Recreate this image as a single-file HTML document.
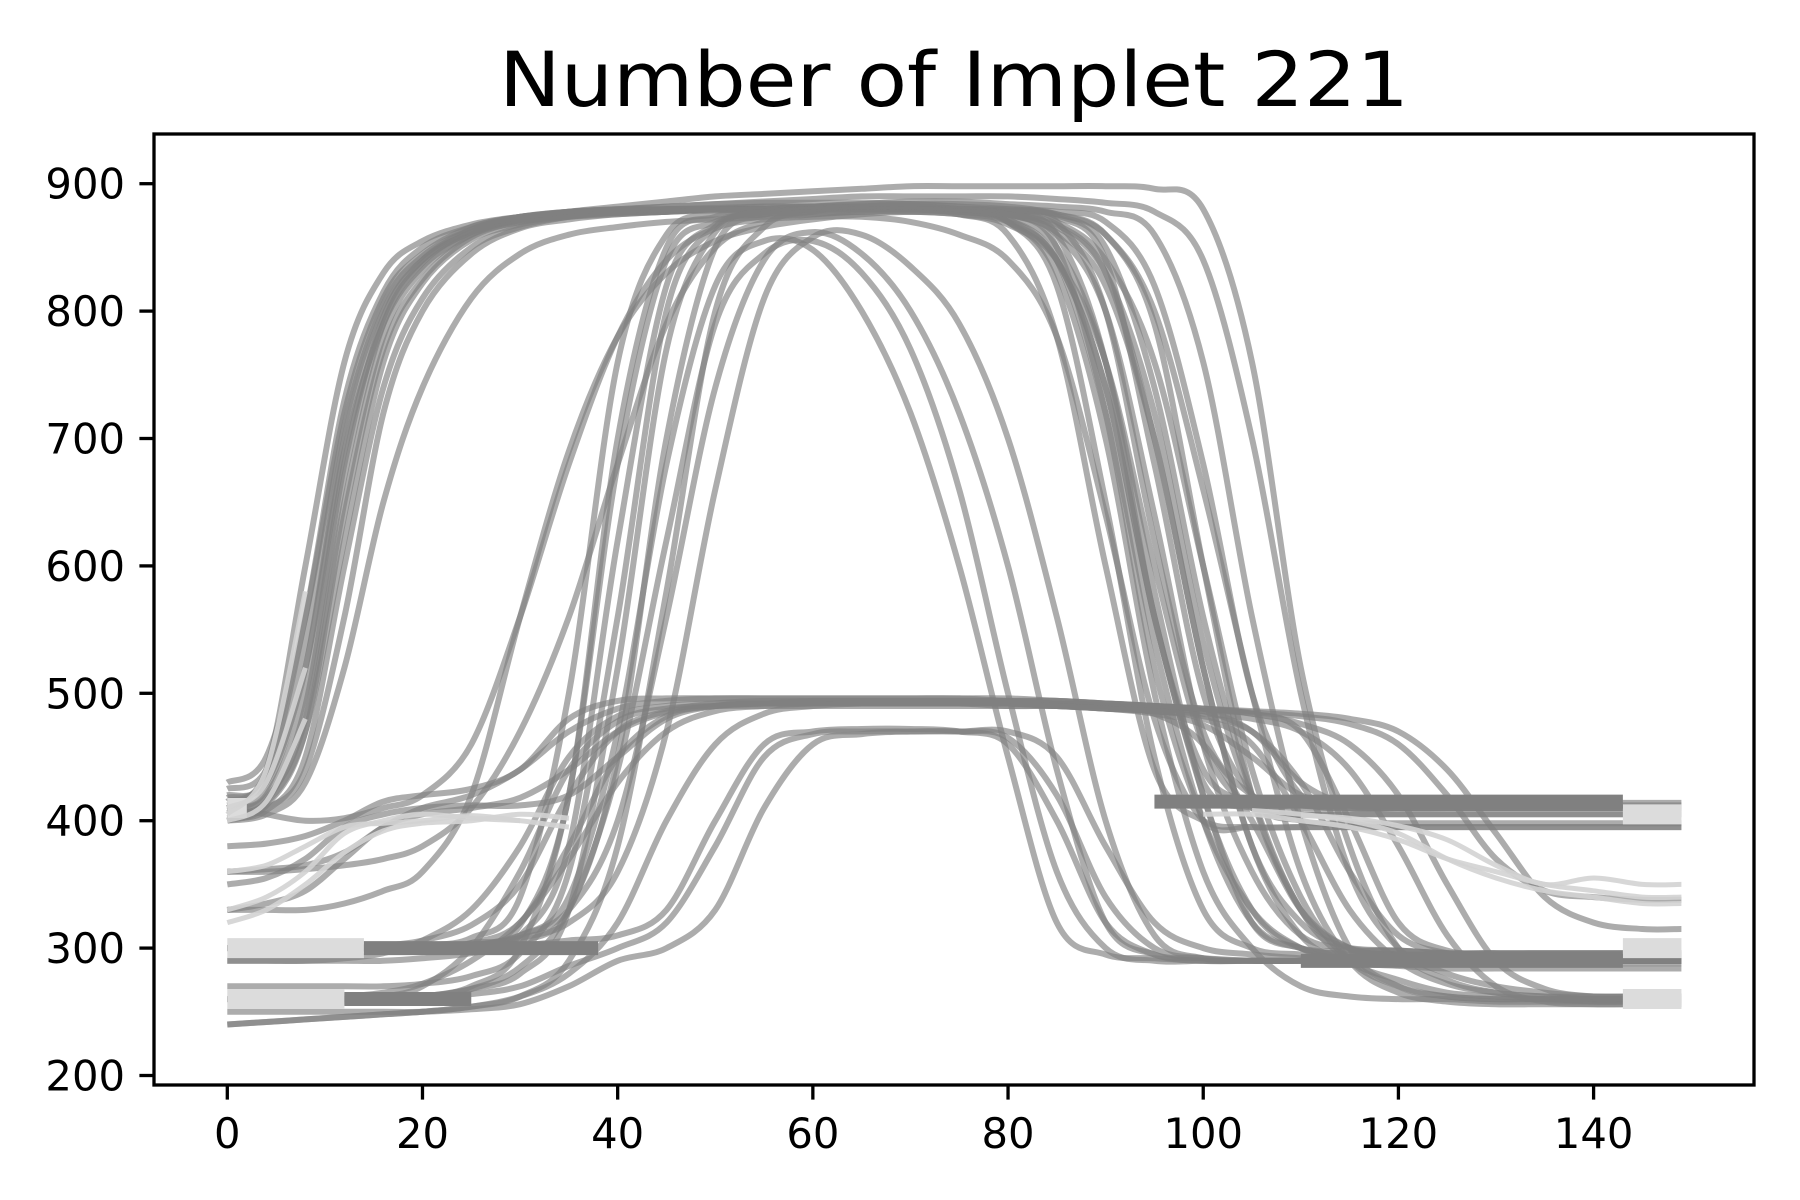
<!DOCTYPE html>
<html><head><meta charset="utf-8"><style>html,body{margin:0;padding:0;background:#fff}svg{display:block}</style></head>
<body>
<svg id="chart" width="1800" height="1200" viewBox="0 0 1800 1200" xmlns="http://www.w3.org/2000/svg" font-family="DejaVu Sans, Liberation Sans, sans-serif">
<rect width="1800" height="1200" fill="#fff"/>
<text x="954" y="106" font-size="76" text-anchor="middle" textLength="910" lengthAdjust="spacingAndGlyphs">Number of Implet 221</text>
<defs><clipPath id="plotclip"><rect x="154" y="134" width="1600" height="951"/></clipPath></defs>
<g id="series" clip-path="url(#plotclip)"></g>
<g id="axes"></g>
</svg>
<script>
const xKnots=[0,4,8,12,16,20,25,30,35,40,45,50,55,60,65,70,75,80,85,90,95,100,105,110,115,120,125,130,135,140,145,149];
const xTicks=[0,20,40,60,80,100,120,140];
const yTicks=[200,300,400,500,600,700,800,900];
const curves=[
[410,425,520,700,800,840,862,872,876,878,878,880,880,880,880,880,880,878,870,800,620,470,420,412,410,410,410,410,410,410,410,410],
[405,410,440,560,720,800,845,865,872,876,878,880,882,882,882,882,880,878,860,760,560,440,415,410,410,410,410,410,410,410,410,410],
[415,440,600,760,830,855,868,874,878,880,882,884,885,885,885,884,882,880,875,850,740,560,420,330,300,295,292,290,290,290,290,290],
[400,412,470,640,770,825,858,870,875,877,878,880,880,880,880,880,878,870,820,650,450,330,300,295,292,292,290,290,290,290,290,290],
[420,430,520,690,790,835,860,870,874,876,878,880,880,882,884,886,886,884,882,878,860,760,560,400,300,270,262,260,260,258,258,258],
[410,418,480,650,780,832,860,872,878,882,886,890,892,894,896,898,898,898,898,898,896,880,760,520,380,300,275,265,262,260,260,260],
[402,408,450,600,740,810,850,866,874,878,880,880,880,880,880,880,876,860,780,600,440,400,395,395,395,395,395,395,395,395,395,395],
[430,450,560,720,810,845,866,874,878,880,880,880,880,880,880,880,880,880,878,870,820,680,500,420,410,410,410,410,410,410,410,410],
[408,415,490,670,790,838,862,871,875,878,879,880,880,880,880,880,879,876,868,830,700,520,380,320,300,298,296,295,295,295,295,295],
[412,420,500,680,795,840,864,874,878,880,882,884,886,888,890,890,890,890,888,885,878,840,700,500,360,300,280,270,265,262,262,262],
[400,405,430,520,650,740,810,845,860,866,870,872,874,876,878,878,876,870,840,740,560,430,410,405,405,405,405,405,405,405,405,405],
[418,435,560,730,815,850,866,874,877,879,880,881,882,882,882,881,880,876,850,720,520,400,330,300,290,288,288,288,288,288,288,288],
[406,414,470,620,760,822,856,868,874,877,878,879,880,880,880,880,880,879,876,860,790,600,420,330,290,275,265,262,260,260,260,260],
[425,440,540,710,805,843,864,872,876,878,880,880,880,880,880,880,880,879,874,840,680,500,420,412,412,412,412,412,412,412,412,412],
[300,300,300,300,300,300,302,310,380,620,820,868,876,878,880,880,878,872,840,720,540,400,320,300,298,298,296,296,296,296,296,296],
[260,260,260,260,260,262,270,300,420,680,840,870,878,880,880,880,878,870,830,700,500,360,300,270,262,260,260,258,258,258,258,258],
[300,300,300,300,300,302,308,340,500,760,860,876,880,882,882,882,880,876,860,800,640,460,360,310,300,298,296,296,296,296,296,296],
[290,290,290,290,290,292,296,305,330,450,700,850,875,880,882,882,880,872,840,740,560,420,320,300,295,295,295,295,295,295,295,295],
[260,258,258,258,260,262,268,280,330,520,770,862,878,882,884,884,882,878,870,840,760,600,440,340,290,270,262,260,260,260,260,260],
[330,330,330,335,345,360,420,560,690,780,830,855,866,872,876,878,878,876,866,830,720,540,420,400,398,398,398,398,398,398,398,398],
[360,360,362,365,370,380,410,470,560,680,790,850,870,876,878,878,876,868,840,760,600,460,410,405,405,405,405,405,405,405,405,405],
[240,242,244,246,248,250,254,262,290,380,580,800,866,878,882,884,884,882,876,860,800,660,500,360,290,265,258,256,256,256,256,256],
[300,300,300,300,300,300,304,318,420,700,850,874,878,880,880,880,878,874,850,760,580,420,330,300,296,294,294,294,294,294,294,294],
[270,270,270,270,270,272,278,296,360,560,800,866,876,880,882,882,880,876,862,820,700,520,380,310,290,286,284,284,284,284,284,284],
[300,300,300,300,300,300,302,310,340,470,680,820,855,848,800,720,600,450,320,295,292,290,290,290,290,290,290,290,290,290,290,290],
[260,260,260,260,260,262,268,285,330,440,620,790,845,855,830,770,660,500,360,300,290,290,290,290,290,290,290,290,290,290,290,290],
[300,300,300,300,300,300,302,310,330,400,560,740,840,862,845,800,720,600,440,320,295,292,290,290,290,290,290,290,290,290,290,290],
[300,300,300,300,300,300,302,308,320,360,470,660,810,858,860,835,790,700,560,400,310,292,290,290,290,290,290,290,290,290,290,290],
[410,405,400,402,410,420,460,560,680,780,840,865,872,874,874,870,860,840,780,640,480,400,395,395,395,395,395,395,395,395,395,395],
[300,300,300,300,300,300,304,320,380,450,482,490,492,492,492,492,492,492,490,490,488,486,484,470,400,320,298,296,296,296,296,296],
[260,260,260,260,262,270,300,360,440,478,488,490,490,490,490,490,490,490,490,488,486,480,460,400,330,290,272,265,262,262,262,262],
[360,362,365,375,395,410,420,440,470,488,494,496,496,496,496,496,496,496,494,492,490,488,486,484,480,470,440,390,340,320,315,315],
[330,335,345,370,395,405,410,418,440,470,485,490,492,494,494,494,494,494,494,492,490,486,470,430,412,410,410,410,410,410,410,410],
[300,300,300,300,302,306,318,350,420,470,486,492,494,494,494,494,494,494,492,490,484,460,400,330,300,294,292,290,290,290,290,290],
[260,260,260,262,265,272,290,320,370,430,470,486,490,492,492,492,492,492,492,492,490,488,484,476,460,420,350,290,268,262,262,262],
[350,355,370,395,405,410,412,412,420,450,480,490,492,492,492,492,492,492,490,488,484,475,450,420,415,414,414,414,414,414,414,414],
[240,242,244,246,248,250,254,262,280,320,400,460,484,490,492,492,492,490,490,488,486,484,480,470,440,380,310,270,258,256,256,256],
[380,382,388,400,415,420,425,440,480,494,496,496,496,496,496,496,496,494,494,492,490,488,485,482,476,460,420,370,345,340,338,338],
[290,290,290,292,296,306,330,380,450,482,490,492,492,492,492,492,492,492,490,488,486,482,470,430,360,310,296,292,292,292,292,292],
[260,260,260,260,260,262,264,270,286,300,320,380,450,468,470,470,470,465,420,340,300,292,290,290,290,290,290,290,290,290,290,290],
[250,250,250,250,250,250,252,256,270,290,300,330,410,460,468,470,470,470,450,380,320,300,295,292,290,290,290,290,290,290,290,290],
[300,300,300,300,300,300,300,302,306,310,330,400,460,470,472,472,470,460,400,320,295,290,290,290,290,290,290,290,290,290,290,290]
];
const lightCurves=[
[405,440,580,null,null,null,null,null,null,null,null,null,null,null,null,null,null,null,null,null,null,null,null,null,null,null,null,null,null,null,null,null],
[410,430,520,null,null,null,null,null,null,null,null,null,null,null,null,null,null,null,null,null,null,null,null,null,null,null,null,null,null,null,null,null],
[400,415,480,null,null,null,null,null,null,null,null,null,null,null,null,null,null,null,null,null,null,null,null,null,null,null,null,null,null,null,null,null],
[330,340,360,390,400,405,402,400,null,null,null,null,null,null,null,null,null,null,null,null,null,null,null,null,null,null,null,null,null,null,null,null],
[360,365,380,395,398,400,404,400,395,null,null,null,null,null,null,null,null,null,null,null,null,null,null,null,null,null,null,null,null,null,null,null],
[320,330,350,375,392,398,400,405,402,null,null,null,null,null,null,null,null,null,null,null,null,null,null,null,null,null,null,null,null,null,null,null],
[null,null,null,null,null,null,null,null,null,null,null,null,null,null,null,null,null,null,null,null,null,405,405,400,395,385,370,360,350,345,340,340],
[null,null,null,null,null,null,null,null,null,null,null,null,null,null,null,null,null,null,null,null,null,null,408,405,400,390,370,355,345,340,335,335],
[null,null,null,null,null,null,null,null,null,null,null,null,null,null,null,null,null,null,null,null,null,null,null,404,402,396,385,365,350,355,350,350]
];
const bandLevel=[300,260,410,300,260,405,300,415,260,290];
const bandStart=[0,0,0,143,143,143,14,95,12,110];
const bandEnd=[14,12,2,149,149,149,38,143,25,143];
const bandTone=['light','light','light','light','light','light','dark','dark','dark','dark'];

const L=154,R=1754,T=134,B=1085;
const xs=v=>227.3+v*(1593.6-227.3)/140;
const ys=v=>183.7+(900-v)*1.274;
const NS='http://www.w3.org/2000/svg';
const g=document.getElementById('series');
const ax=document.getElementById('axes');

function pathFrom(vals){
  let segs=[],cur=[];
  vals.forEach((v,i)=>{if(v===null){if(cur.length)segs.push(cur);cur=[];}else cur.push([xs(xKnots[i]),ys(v)]);});
  if(cur.length)segs.push(cur);
  let d='';
  segs.forEach(p=>{
    d+='M'+p[0][0].toFixed(1)+','+p[0][1].toFixed(1);
    for(let i=0;i<p.length-1;i++){
      const p0=p[Math.max(0,i-1)],p1=p[i],p2=p[i+1],p3=p[Math.min(p.length-1,i+2)];
      const c1x=p1[0]+(p2[0]-p0[0])/6,c1y=p1[1]+(p2[1]-p0[1])/6;
      const c2x=p2[0]-(p3[0]-p1[0])/6,c2y=p2[1]-(p3[1]-p1[1])/6;
      d+='C'+c1x.toFixed(1)+','+c1y.toFixed(1)+' '+c2x.toFixed(1)+','+c2y.toFixed(1)+' '+p2[0].toFixed(1)+','+p2[1].toFixed(1);
    }
  });
  return d;
}
curves.forEach((c,i)=>{
  const p=document.createElementNS(NS,'path');
  p.setAttribute('d',pathFrom(c));
  p.setAttribute('fill','none');
  p.setAttribute('stroke','#808080');
  p.setAttribute('stroke-opacity','0.65');
  p.setAttribute('stroke-width','6');
  
  
  g.appendChild(p);
});
bandLevel.forEach((lv,i)=>{
  const l=document.createElementNS(NS,'line');
  l.setAttribute('x1',xs(bandStart[i]));
  l.setAttribute('x2',xs(bandEnd[i]));
  l.setAttribute('y1',ys(lv));
  l.setAttribute('y2',ys(lv));
  l.setAttribute('stroke',bandTone[i]==='light'?'#dcdcdc':'#808080');
  l.setAttribute('stroke-width',bandTone[i]==='light'?'20':'14');
  
  
  g.appendChild(l);
});
lightCurves.forEach((c,i)=>{
  const p=document.createElementNS(NS,'path');
  p.setAttribute('d',pathFrom(c));
  p.setAttribute('fill','none');
  p.setAttribute('stroke','#d3d3d3');
  p.setAttribute('stroke-opacity','0.9');
  p.setAttribute('stroke-width','5');
  
  
  g.appendChild(p);
});
const fr=document.createElementNS(NS,'rect');
fr.setAttribute('x',L);
fr.setAttribute('y',T);
fr.setAttribute('width',R-L);
fr.setAttribute('height',B-T);
fr.setAttribute('fill','none');
fr.setAttribute('stroke','#000');
fr.setAttribute('stroke-width','3.3');


ax.appendChild(fr);
yTicks.forEach(v=>{
  const y=ys(v);
  const t=document.createElementNS(NS,'line');
  t.setAttribute('x1',L-14.6);
  t.setAttribute('x2',L);
  t.setAttribute('y1',y);
  t.setAttribute('y2',y);
  t.setAttribute('stroke','#000');
  t.setAttribute('stroke-width','3.3');
  
  
  ax.appendChild(t);
  const s=document.createElementNS(NS,'text');
  s.setAttribute('x',L-29);
  s.setAttribute('y',y+15);
  s.setAttribute('font-size','41.7');
  s.setAttribute('text-anchor','end');
  s.textContent=v;
  
  
  ax.appendChild(s);
});
xTicks.forEach(v=>{
  const x=xs(v);
  const t=document.createElementNS(NS,'line');
  t.setAttribute('x1',x);
  t.setAttribute('x2',x);
  t.setAttribute('y1',B);
  t.setAttribute('y2',B+14.6);
  t.setAttribute('stroke','#000');
  t.setAttribute('stroke-width','3.3');
  
  
  ax.appendChild(t);
  const s=document.createElementNS(NS,'text');
  s.setAttribute('x',x);
  s.setAttribute('y',B+63);
  s.setAttribute('font-size','41.7');
  s.setAttribute('text-anchor','middle');
  s.textContent=v;
  
  
  ax.appendChild(s);
});
</script>
</body></html>
